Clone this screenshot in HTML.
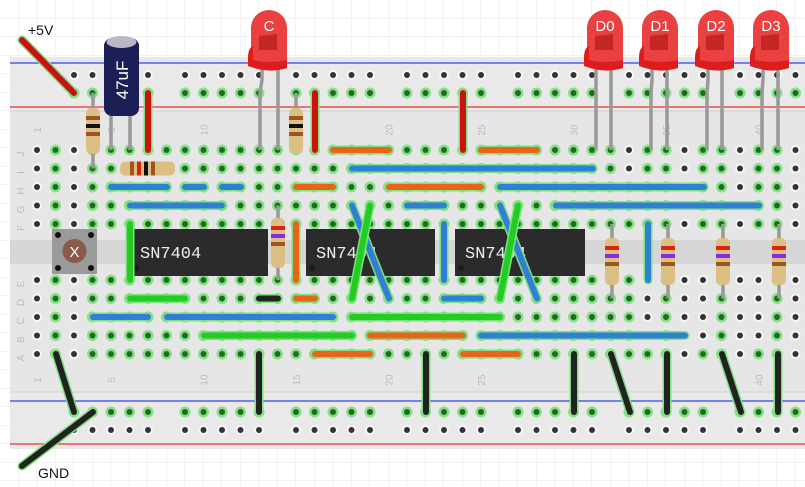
<!DOCTYPE html>
<html><head><meta charset="utf-8"><style>
html,body{margin:0;padding:0;background:#fff;width:805px;height:487px;overflow:hidden}
svg{display:block}
text{font-family:"Liberation Sans",sans-serif}
text.mono{font-family:"Liberation Mono",monospace}
</style></head><body>
<svg id="s" width="805" height="487" viewBox="0 0 805 487" xmlns="http://www.w3.org/2000/svg">
<defs>
<pattern id="grid" width="18.5" height="18.5" patternUnits="userSpaceOnUse"><path d="M18.5 0V18.5H0" fill="none" stroke="#e4e4e4" stroke-width="1"/></pattern>
</defs>
<rect width="805" height="487" fill="url(#grid)"/>
<rect x="10" y="57" width="795" height="392" fill="#e6e6e6"/>
<rect x="10" y="57" width="795" height="54" fill="#e9e9e9"/>
<rect x="10" y="392" width="795" height="57" fill="#e9e9e9"/>
<line x1="10" y1="111" x2="805" y2="111" stroke="#d0d0d0"/>
<line x1="10" y1="392" x2="805" y2="392" stroke="#d0d0d0"/>
<line x1="10" y1="63" x2="805" y2="63" stroke="#3344ee" stroke-width="1.2"/>
<line x1="10" y1="107" x2="805" y2="107" stroke="#ee3333" stroke-width="1.2"/>
<line x1="10" y1="401" x2="805" y2="401" stroke="#3344ee" stroke-width="1.2"/>
<line x1="10" y1="444" x2="805" y2="444" stroke="#ee3333" stroke-width="1.2"/>
<rect x="10" y="240" width="795" height="24" fill="#d6d6d6"/>
<g id="holes"></g>
<g id="labels" fill="#bbb" font-size="10"></g>
<g id="parts"></g>
<text x="28" y="35" font-size="14" fill="#111">+5V</text>
<text x="38" y="478" font-size="14" fill="#111">GND</text>
</svg>
<script>
var NS="http://www.w3.org/2000/svg";
function el(p,t,a,txt){var e=document.createElementNS(NS,t);for(var k in a)e.setAttribute(k,a[k]);if(txt)e.textContent=txt;p.appendChild(e);return e;}
function cx(c){return 37+(c-1)*18.5;}
var H=document.getElementById('holes'),L=document.getElementById('labels'),P=document.getElementById('parts');
var rows={J:150,I:168.5,H:187,G:205.5,F:224,E:280,D:298.5,C:317,B:335.5,A:354};
var darkCols=[1,3,36,39,42];
function hole(x,y,g){ if(g){el(H,'circle',{cx:x,cy:y,r:5.5,fill:'#86e086'});el(H,'circle',{cx:x,cy:y,r:3,fill:'#1f6b1f'});}
 else {el(H,'circle',{cx:x,cy:y,r:5,fill:'#f6f6f6'});el(H,'circle',{cx:x,cy:y,r:3,fill:'#333'});}}
for(var c=1;c<=43;c++){for(var r in rows){var g=darkCols.indexOf(c)<0; if((r=='J'||r=='I')&&c>30&&[31,32,34,35,37,38,40,41].indexOf(c)<0)g=false; if('EDCBA'.indexOf(r)>=0&&c>32&&[33,35,36,38,39,41].indexOf(c)<0&&r!='A')g=false; hole(cx(c),rows[r],g);}}
for(var c=3;c<=43;c++){ if((c-3)%6==5)continue; hole(cx(c),75,false);hole(cx(c),93,true);hole(cx(c),412,true);hole(cx(c),430,false);}
for(var r in rows){el(L,'text',{x:0,y:0,transform:'translate(24,'+(rows[r]+4)+') rotate(-90)', 'font-size':10,'text-anchor':'middle'},r);}
[1,5,10,15,20,25,30,35,40].forEach(function(n){var x=cx(n)+4;el(L,'text',{transform:'translate('+x+',130) rotate(-90)','text-anchor':'middle'},n);el(L,'text',{transform:'translate('+x+',380) rotate(-90)','text-anchor':'middle'},n);});
var col={r:'#cc1111',o:'#e8641a',b:'#2f7fd6',g:'#22cc22',k:'#222'};
function wire(x1,y1,x2,y2,c){el(P,'line',{x1:x1,y1:y1,x2:x2,y2:y2,stroke:'#7fe07f','stroke-width':9,'stroke-linecap':'round'});el(P,'line',{x1:x1,y1:y1,x2:x2,y2:y2,stroke:col[c],'stroke-width':6,'stroke-linecap':'round'});}
function leg(x1,y1,x2,y2){el(P,'line',{x1:x1,y1:y1,x2:x2,y2:y2,stroke:'#999','stroke-width':3.5});}
[[130,268],[306,435],[455,585]].forEach(function(a){el(P,'rect',{x:a[0],y:229,width:a[1]-a[0],height:47,fill:'#2b2b2b'});el(P,'text',{x:a[0]+10,y:258,fill:'#eee','font-size':17,'class':'mono'},'SN7404');el(P,'circle',{cx:a[0]+6,cy:268,r:3,fill:'#1a1a1a'});});
el(P,'rect',{x:52,y:229,width:45,height:45,fill:'#9a9a9a'});
[[58,235],[91,235],[58,268],[91,268]].forEach(function(p){el(P,'circle',{cx:p[0],cy:p[1],r:3,fill:'#111'});});
el(P,'circle',{cx:74.5,cy:251,r:12,fill:'#8a5a4a'});el(P,'text',{x:74.5,y:257,fill:'#fff','font-size':15,'text-anchor':'middle'},'X');
var W=[[22,40,74,93,'r'],[148,93,148,150,'r'],[315,93,315,150,'r'],[463,93,463,150,'r'],
[333,150,389,150,'o'],[481,150,537,150,'o'],[352,168.5,593,168.5,'b'],
[111,187,167,187,'b'],[185,187,204,187,'b'],[222,187,241,187,'b'],[296,187,333,187,'o'],[389,187,481,187,'o'],[500,187,704,187,'b'],
[130,205.5,222,205.5,'b'],[407,205.5,444,205.5,'b'],[556,205.5,759,205.5,'b'],
[130,224,130,280,'g'],[296,224,296,280,'o'],[444,224,444,280,'b'],[648,224,648,280,'b'],
[130,298.5,185,298.5,'g'],[259,298.5,278,298.5,'k'],[296,298.5,315,298.5,'o'],[444,298.5,481,298.5,'b'],
[93,317,148,317,'b'],[167,317,333,317,'b'],[352,317,500,317,'g'],
[204,335.5,352,335.5,'g'],[370,335.5,463,335.5,'o'],[481,335.5,685,335.5,'b'],
[315,354,370,354,'o'],[463,354,518,354,'o'],
[56,354,74,412,'k'],[93,412,22,466,'k'],[259,354,259,412,'k'],[426,354,426,412,'k'],[574,354,574,412,'k'],[611,354,630,412,'k'],[667,354,667,412,'k'],[722,354,741,412,'k'],[778,354,778,412,'k']];
W.forEach(function(w){wire(w[0],w[1],w[2],w[3],w[4]);});
wire(352,205.5,389,298.5,'b');wire(370,205.5,352,298.5,'g');wire(500,205.5,537,298.5,'b');wire(518,205.5,500,298.5,'g');
function resV(x,y1,y2,b1,b2,h,bands){leg(x,y1,x,y2);el(P,'rect',{x:x-7,y:b1,width:14,height:b2-b1,rx:5,fill:'#dcbf85'});bands.forEach(function(b,i){el(P,'rect',{x:x-7,y:b1+8+i*8,width:14,height:4,fill:b});});}
function resH(y,x1,x2,b1,b2,bands){leg(x1,y,x2,y);el(P,'rect',{x:b1,y:y-7,width:b2-b1,height:14,rx:5,fill:'#dcbf85'});bands.forEach(function(b,i){el(P,'rect',{x:b1+10+i*7,y:y-7,width:4,height:14,fill:b});});}
resV(93,93,168.5,108,154,0,['#a0521f','#111','#a0521f']);
resH(168.5,130,167,120,175,['#a0521f','#d21','#111','#a0521f']);
resV(296,93,150,108,154,0,['#a0521f','#111','#a0521f']);
resV(278,205.5,280,218,268,0,['#d21','#8a2be2','#a0521f']);
[612,668,723,779].forEach(function(x){resV(x,224,298.5,238,285,0,['#d21','#8a2be2','#a0521f']);});
leg(111,100,111,150);leg(130,100,130,150);
el(P,'rect',{x:104,y:38,width:35,height:78,rx:8,fill:'#1c1f55'});
el(P,'ellipse',{cx:121.5,cy:42,rx:15,ry:6,fill:'#b8b8c8'});
el(P,'text',{transform:'translate(128,80) rotate(-90)','font-size':17,fill:'#fff','text-anchor':'middle'},'47uF');
function led(x,l1,l2,lab){el(P,'path',{d:'M'+(l1)+' 65 L'+(l1)+' 80 L'+(x-9)+' 92 L'+(x-9)+' 150',fill:'none',stroke:'#999','stroke-width':3.5});leg(l2,65,l2,150);
el(P,'path',{d:'M'+(x-18)+' 66 L'+(x-18)+' 28 A18 18 0 0 1 '+(x+18)+' 28 L'+(x+18)+' 66 Z',fill:'#ea4040'});
el(P,'path',{d:'M'+(x-21)+' 58 Q'+(x-21)+' 48 '+(x-16)+' 46 L'+(x-16)+' 60 Q'+(x)+' 64 '+(x+18)+' 60 L'+(x+18)+' 68 Q'+(x)+' 74 '+(x-21)+' 66 Z',fill:'#dd1d1d'});
el(P,'path',{d:'M'+(x-10)+' 50 L'+(x-10)+' 36 L'+(x+8)+' 34 L'+(x+8)+' 50 Z',fill:'#c42525'});
el(P,'text',{x:x,y:31,'font-size':15,fill:'#fff','text-anchor':'middle'},lab);}
led(269,262,278,'C');led(605,596,611,'D0');led(660,652,667,'D1');led(716,708,722,'D2');led(771,763,778,'D3');
</script>
</body></html>
